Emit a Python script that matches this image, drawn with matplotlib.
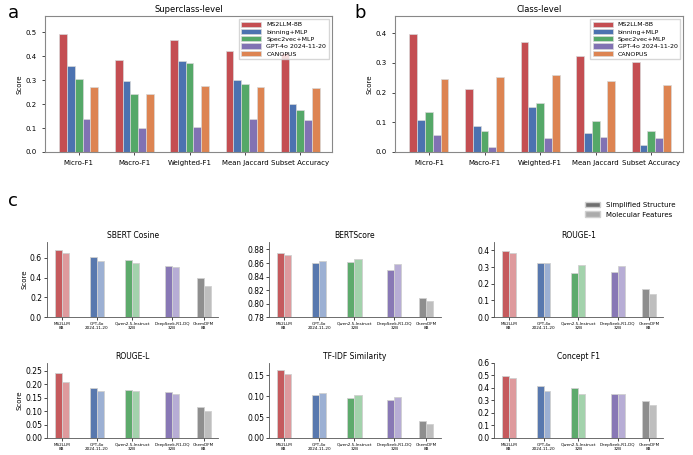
import numpy as np
import matplotlib.pyplot as plt
from matplotlib.patches import Patch

# panels a and b
metrics = ['Micro-F1', 'Macro-F1', 'Weighted-F1', 'Mean Jaccard', 'Subset Accuracy']
methods = ['MS2LLM-8B', 'binning+MLP', 'Spec2vec+MLP', 'GPT-4o 2024-11-20', 'CANOPUS']
method_colors = ['#C44E52', '#4C72B0', '#55A868', '#8172B3', '#DD8452']

superclass = {
    'MS2LLM-8B': [0.495, 0.385, 0.468, 0.423, 0.415],
    'binning+MLP': [0.358, 0.295, 0.382, 0.300, 0.202],
    'Spec2vec+MLP': [0.305, 0.243, 0.374, 0.285, 0.175],
    'GPT-4o 2024-11-20': [0.140, 0.099, 0.104, 0.138, 0.133],
    'CANOPUS': [0.273, 0.243, 0.275, 0.272, 0.266],
}
classlevel = {
    'MS2LLM-8B': [0.398, 0.211, 0.370, 0.324, 0.304],
    'binning+MLP': [0.108, 0.087, 0.151, 0.064, 0.022],
    'Spec2vec+MLP': [0.136, 0.071, 0.165, 0.104, 0.072],
    'GPT-4o 2024-11-20': [0.057, 0.017, 0.046, 0.051, 0.046],
    'CANOPUS': [0.247, 0.253, 0.258, 0.240, 0.225],
}

# panel c
models = ['MS2LLM\n8B', 'GPT-4o\n2024-11-20', 'Qwen2.5-Instruct\n32B', 'DeepSeek-R1-DQ\n32B', 'ChemDFM\n8B']
model_pos = [0, 1, 2, 3.13, 4.03]
dark_colors = ['#C55A5D', '#5878AE', '#5DAA6C', '#8878B5', '#8E8E8E']
light_colors = ['#DE9A9D', '#9CB0D3', '#A3D2AC', '#B7ADD5', '#BEBEBE']

text_metrics = ['SBERT Cosine', 'BERTScore', 'ROUGE-1', 'ROUGE-L', 'TF-IDF Similarity', 'Concept F1']
simplified = [
    [0.683, 0.609, 0.579, 0.518, 0.394],
    [0.875, 0.860, 0.861, 0.850, 0.808],
    [0.398, 0.322, 0.266, 0.270, 0.166],
    [0.241, 0.185, 0.180, 0.170, 0.114],
    [0.162, 0.103, 0.096, 0.090, 0.040],
    [0.492, 0.417, 0.400, 0.352, 0.296],
]
molecular = [
    [0.646, 0.572, 0.545, 0.512, 0.320],
    [0.872, 0.863, 0.866, 0.859, 0.804],
    [0.386, 0.324, 0.310, 0.304, 0.136],
    [0.209, 0.175, 0.177, 0.165, 0.099],
    [0.153, 0.107, 0.104, 0.098, 0.033],
    [0.476, 0.374, 0.349, 0.349, 0.263],
]
ylims = [(0, 0.76), (0.78, 0.891), (0, 0.45), (0, 0.28), (0, 0.18), (0, 0.6)]
yticks = [
    [0.0, 0.2, 0.4, 0.6],
    [0.78, 0.80, 0.82, 0.84, 0.86, 0.88],
    [0.0, 0.1, 0.2, 0.3, 0.4],
    [0.00, 0.05, 0.10, 0.15, 0.20, 0.25],
    [0.00, 0.05, 0.10, 0.15],
    [0.0, 0.1, 0.2, 0.3, 0.4, 0.5, 0.6],
]
yfmt = ['%.1f', '%.2f', '%.1f', '%.2f', '%.2f', '%.1f']

fig = plt.figure(figsize=(6.93, 4.55), dpi=100)


def group_bars(ax, data, title):
    x = np.arange(len(metrics))
    w = 0.14
    for i, m in enumerate(methods):
        ax.bar(x + (i - 2) * w, data[m], w, color=method_colors[i], label=m,
               edgecolor='#d8d8d8', linewidth=0.5)
    ax.set_xticks(x)
    ax.set_xticklabels(metrics, fontsize=5)
    ax.tick_params(axis='y', labelsize=5, length=2.5, width=0.5)
    ax.tick_params(axis='x', length=2.5, width=0.5)
    ax.set_ylabel('Score', fontsize=5, labelpad=2)
    ax.set_title(title, fontsize=6, pad=3)
    top = max(max(v) for v in data.values()) * 1.15
    ax.set_ylim(0, top)
    ax.set_xlim(-0.61, 4.57)
    for s in ax.spines.values():
        s.set_color('#888888')
        s.set_linewidth(0.8)
    ax.legend(loc='upper right', fontsize=4.5, frameon=True, fancybox=False,
              edgecolor='#cccccc', handlelength=3.2, handleheight=0.9,
              borderpad=0.4, labelspacing=0.25)


ax_a = fig.add_axes([0.065, 0.666, 0.414, 0.299])
group_bars(ax_a, superclass, 'Superclass-level')
ax_b = fig.add_axes([0.570, 0.666, 0.4156, 0.299])
group_bars(ax_b, classlevel, 'Class-level')

fig.text(0.012, 0.972, 'a', fontsize=13, va='center')
fig.text(0.511, 0.972, 'b', fontsize=13, va='center')
fig.text(0.012, 0.558, 'c', fontsize=13, va='center')

lefts = [0.0678, 0.388, 0.713]
widths = [0.247, 0.248, 0.244]
bottoms = [0.303, 0.0374]
for k, name in enumerate(text_metrics):
    r, c = divmod(k, 3)
    ax = fig.add_axes([lefts[c], bottoms[r], widths[c], 0.165])
    w = 0.2
    for j in range(len(models)):
        ax.bar(model_pos[j] - w / 2, simplified[k][j], w, color=dark_colors[j],
               edgecolor='#d0d0d0', linewidth=0.6)
        ax.bar(model_pos[j] + w / 2, molecular[k][j], w, color=light_colors[j],
               edgecolor='#d0d0d0', linewidth=0.6)
    ax.set_xticks(model_pos)
    ax.set_xticklabels(models, fontsize=3.0, linespacing=1.0)
    ax.set_xlim(-0.42, 4.44)
    ax.set_ylim(*ylims[k])
    ax.set_yticks(yticks[k])
    ax.set_yticklabels([yfmt[k] % v for v in yticks[k]], fontsize=5.5)
    ax.tick_params(axis='both', length=2, width=0.5, pad=1.5)
    ax.set_title(name, fontsize=5.5, pad=3)
    ax.spines['top'].set_visible(False)
    ax.spines['right'].set_visible(False)
    for s in ['left', 'bottom']:
        ax.spines[s].set_linewidth(0.6)
        ax.spines[s].set_color('#555555')
    if c == 0:
        ax.set_ylabel('Score', fontsize=5, labelpad=2)

handles = [Patch(facecolor='#707070', edgecolor='#d0d0d0'),
           Patch(facecolor='#ababab', edgecolor='#d0d0d0')]
fig.legend(handles, ['Simplified Structure', 'Molecular Features'],
           loc='upper left', bbox_to_anchor=(0.835, 0.57), frameon=False,
           fontsize=5, handlelength=2.2, handleheight=0.8, labelspacing=0.5)

fig.savefig('out.png', dpi=100)
